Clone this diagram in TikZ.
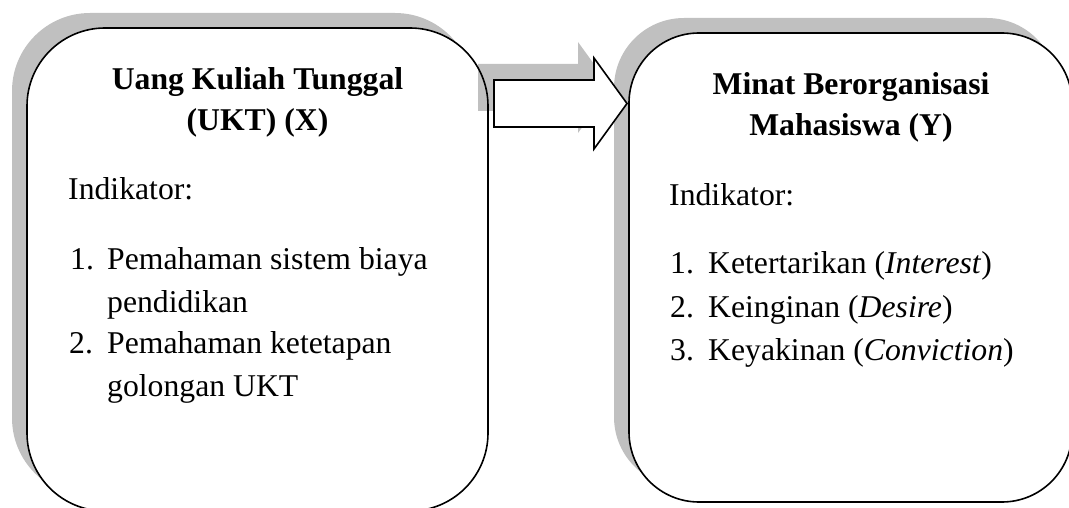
\documentclass[tikz,border=0pt]{standalone}
\usepackage{fontspec}
\setmainfont{Liberation Serif}
\definecolor{shadowgray}{HTML}{C0C0C0}
\begin{document}
\begin{tikzpicture}[x=1pt,y=-1pt,
  boxline/.style={draw=black, line width=1.6pt},
  shade/.style={fill=shadowgray, draw=none},
  txt/.style={inner sep=0pt, font=\fontsize{31.7}{42.5}\selectfont},
  ttl/.style={txt, anchor=base, font=\fontsize{31.7}{42.5}\selectfont\bfseries},
  itm/.style={txt, anchor=base west}]
\useasboundingbox (0,0) rectangle (1069,508);
% left box: shadow, fill
\path[shade, rounded corners=78pt] (12,13) rectangle (473,496);
\path[fill=white, rounded corners=78pt] (27,28) rectangle (488,511);
% arrow shadow
\path[shade] (478,64) -- (578,64) -- (578,42) -- (611,87.5) -- (578,133) -- (578,111) -- (478,111) -- cycle;
% left box border
\draw[boxline, rounded corners=78pt] (27,28) rectangle (488,511);
% right box
\path[shade, rounded corners=70pt] (614,18) rectangle (1057,487);
\draw[boxline, fill=white, rounded corners=70pt] (629,33) rectangle (1072,502);
% arrow
\draw[boxline, fill=white, line join=miter] (494,80) -- (594,80) -- (594,58) -- (627,103.5) -- (594,149) -- (594,127) -- (494,127) -- cycle;
% left texts
\node[ttl] (lt1) at (257.5,90) {Uang Kuliah Tunggal};
\node[ttl] (lt2) at (257.5,131) {(UKT) (X)};
\node[itm] (li) at (68,200) {Indikator:};
\node[itm] (ln1) at (70,269) {1.};
\node[itm] (la1) at (107,269) {Pemahaman sistem biaya};
\node[itm] (la2) at (107,312) {pendidikan};
\node[itm] (ln2) at (69,353) {2.};
\node[itm] (lb1) at (107,353) {Pemahaman ketetapan};
\node[itm] (lb2) at (107,396) {golongan UKT};
% right texts
\node[ttl] (rt1) at (851,95) {Minat Berorganisasi};
\node[ttl] (rt2) at (851,136) {Mahasiswa (Y)};
\node[itm] (ri) at (669,205) {Indikator:};
\node[itm] (rn1) at (670,273) {1.};
\node[itm] (ra) at (708,273) {Ketertarikan (\textit{Interest})};
\node[itm] (rn2) at (670,317) {2.};
\node[itm] (rb) at (708,317) {Keinginan (\textit{Desire})};
\node[itm] (rn3) at (670,360) {3.};
\node[itm] (rc) at (708,360) {Keyakinan (\textit{Conviction})};
\end{tikzpicture}
\end{document}
